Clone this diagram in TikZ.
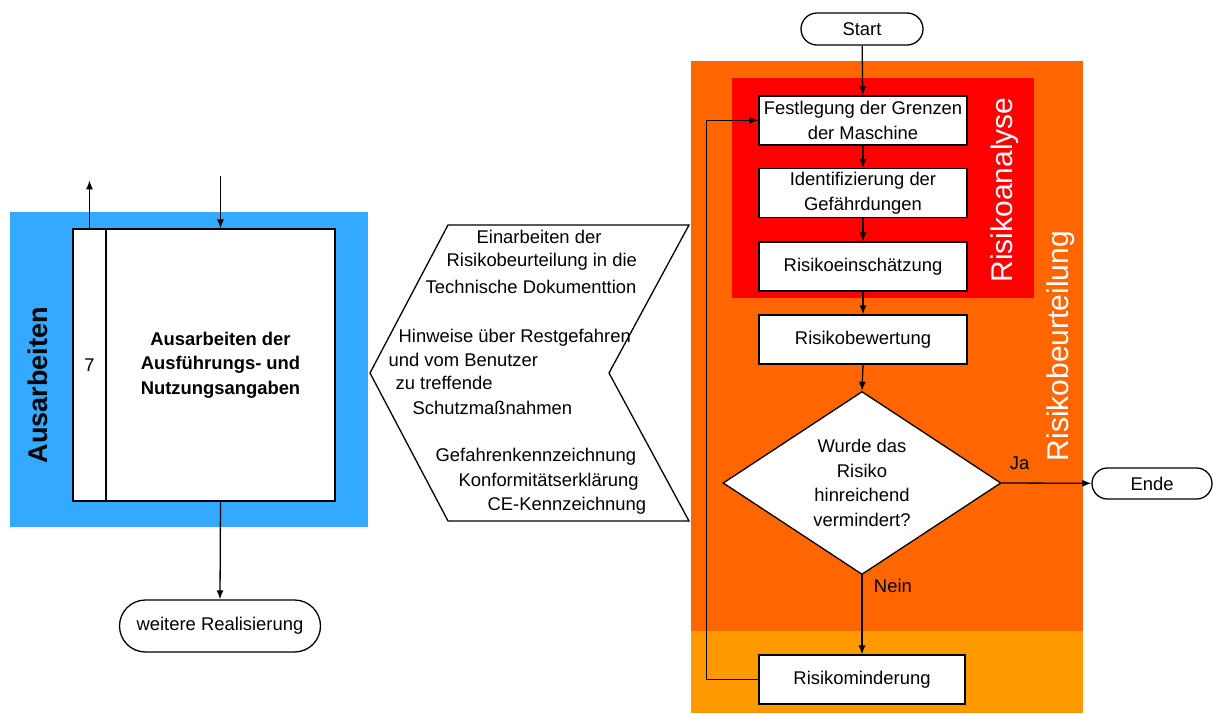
\documentclass[tikz,border=0pt]{standalone}
\usepackage{fontspec}
\setmainfont{Liberation Sans}
\usetikzlibrary{shapes.geometric,shapes.misc,arrows.meta}

\definecolor{ausblue}{HTML}{33AAFF}
\definecolor{beurorange}{HTML}{FF6600}
\definecolor{minderorange}{HTML}{FF9900}
\definecolor{analysered}{HTML}{FF0000}

\newcommand{\txt}{\fontsize{18.4}{24.5}\selectfont}

\begin{document}
\begin{tikzpicture}[x=1pt,y=-1pt,>={Latex[length=9pt,width=7pt]},line width=1.3pt,
    proc/.style={draw,fill=white,minimum width=208pt,minimum height=49pt,align=center,font=\txt,inner sep=2pt},
    term/.style={draw,fill=white,rounded rectangle,minimum height=32pt,font=\txt,inner sep=2pt},
    decide/.style={draw,fill=white,diamond,aspect=1.5,minimum width=278pt,minimum height=183pt,inner sep=0pt,align=center,font=\txt},
    biglabel/.style={rotate=90,font=\fontsize{30}{30}\selectfont,text=white}]
    \useasboundingbox (0,0) rectangle (1216,713);

    % backgrounds
    \fill[ausblue] (10,212) rectangle (368,527);
    \fill[beurorange] (691,61) rectangle (1083,713);
    \fill[minderorange] (691,631) rectangle (1083,713);
    \fill[analysered] (732,78) rectangle (1034,298);

    % left part
    \node[rotate=90,font=\fontsize{27}{27}\selectfont\bfseries] (aus) at (37.5,385) {Ausarbeiten};
    \node[draw,fill=white,minimum width=33pt,minimum height=272pt,font=\txt] (nr) at (89.5,365) {7};
    \node[draw,fill=white,minimum width=229pt,minimum height=272pt,align=center,font=\txt\bfseries] (work) at (220.5,365)
        {Ausarbeiten der\\Ausführungs- und\\Nutzungsangaben};
    \node[term,minimum width=205pt,minimum height=52pt] (weiter) at (220,626) {weitere Realisierung};
    \coordinate (in) at (220.5,176);

    \draw[->] (nr.north) -- ++(0,-48);
    \draw[->] (in) -- (work.north);
    \draw[->] (work.south) -- (weiter.north);

    % documentation
    \draw (448,225) -- (689,225) -- (609,373) -- (689,521) -- (448,521) -- (370,373) -- cycle;
    \foreach \x/\y/\t [count=\i] in {476/237/Einarbeiten der, 446/262/Risikobeurteilung in die,
        425/287/Technische Dokumenttion, 398/338/Hinweise über Restgefahren, 388/360/und vom Benutzer,
        395/383/zu treffende, 412/408/Schutzmaßnahmen, 435/457/Gefahrenkennzeichnung,
        458/482/Konformitätserklärung, 487/506/CE-Kennzeichnung}
        \node[anchor=west,inner sep=0pt,font=\txt] (doc\i) at (\x,\y) {\t};

    % risk assessment
    \node[biglabel] (analyse) at (1005,190) {Risikoanalyse};
    \node[biglabel] (beurteil) at (1061,346) {Risikobeurteilung};

    \node[term,minimum width=126pt] (start) at (862,29) {Start};
    \node[proc] (fest) at (863,120.5) {Festlegung der Grenzen\\der Maschine};
    \node[proc] (ident) at (863,193) {Identifizierung der\\Gefährdungen};
    \node[proc] (schaetz) at (863,266.5) {Risikoeinschätzung};
    \node[proc] (bewert) at (863,339.5) {Risikobewertung};
    \node[decide] (check) at (862,483) {Wurde das\\Risiko\\hinreichend\\vermindert?};
    \node[proc,minimum width=206pt] (minder) at (862,679.5) {Risikominderung};
    \node[term,minimum width=124pt,minimum height=31pt] (ende) at (1152,483.5) {Ende};

    \draw[->] (start) -- (fest);
    \draw[->] (fest) -- (ident);
    \draw[->] (ident) -- (schaetz);
    \draw[->] (schaetz) -- (bewert);
    \draw[->] (bewert.south) -- (check.north);
    \draw[->] (check.east) -- node[pos=0.2,above=9pt,font=\txt] (ja) {Ja} (ende);
    \draw[->] (check.south) -- node[pos=0.14,right=8pt,font=\txt] (nein) {Nein} (minder);
    \draw[->] (minder.west) -- ++(-52,0) |- (fest.west);
\end{tikzpicture}
\end{document}
